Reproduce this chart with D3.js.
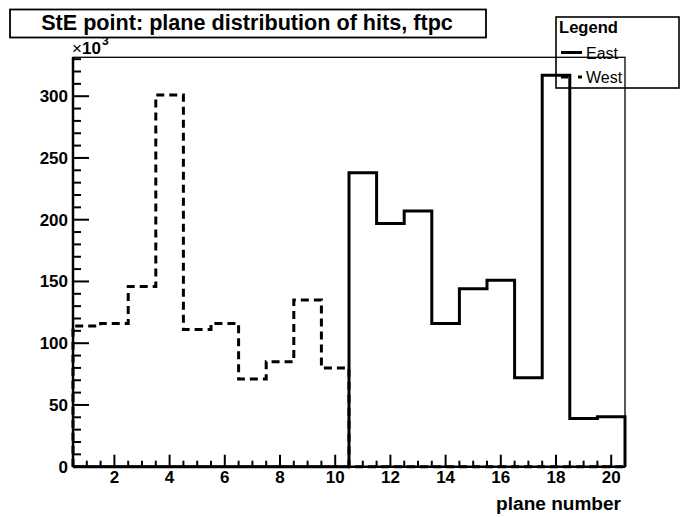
<!DOCTYPE html>
<html><head><meta charset="utf-8">
<script src="https://cdn.jsdelivr.net/npm/d3@7"></script>
<style>
html,body{margin:0;padding:0;background:#fff;}
svg{display:block;}
text{font-family:"Liberation Sans",Arial,Helvetica,sans-serif;fill:#000;}
</style></head>
<body>
<script>
// ---- data (values in units of 10^3 hits) ----
const planes = [1,2,3,4,5,6,7,8,9,10,11,12,13,14,15,16,17,18,19,20];
const eastHits = [0,0,0,0,0,0,0,0,0,0, 238,197,207,116,144,151,72,317,39,40.5];
const westHits = [114,116,146,301,111,116,71,85,135,80, 0,0,0,0,0,0,0,0,0,0];
const xTickValues = [2,4,6,8,10,12,14,16,18,20];
const yTickValues = [0,50,100,150,200,250,300];
const titleText = "StE point: plane distribution of hits, ftpc";
const xTitle = "plane number";
const legendTitle = "Legend";
const seriesNames = ["East","West"];

const W = 682, H = 517;
const svg = d3.select("body").append("svg").attr("width", W).attr("height", H);

const x = d3.scaleLinear().domain([0.5, 20.5]).range([73, 625]);
const y = d3.scaleLinear().domain([0, 331.5]).range([466.7, 57.3]);

function fit(sel, target){
  const w = sel.node().getComputedTextLength();
  const fs = parseFloat(sel.attr("font-size"));
  sel.attr("font-size", fs * target / w);
}

// frame (top/right thin)
svg.append("rect").attr("x", x(0.5)).attr("y", y(331.5))
  .attr("width", x(20.5)-x(0.5)).attr("height", y(0)-y(331.5))
  .attr("fill","none").attr("stroke","#000").attr("stroke-width",1.3);

// histogram outlines
function histPoints(vals){
  const pts = [[0.5,0]];
  vals.forEach((v,i)=>{ pts.push([planes[i]-0.5, v]); pts.push([planes[i]+0.5, v]); });
  pts.push([20.5,0]);
  return pts;
}
const line = d3.line().x(d=>x(d[0])).y(d=>y(d[1]));

svg.append("path").attr("d", line(histPoints(westHits)))
  .attr("fill","none").attr("stroke","#000").attr("stroke-width",3)
  .attr("stroke-dasharray","8,5");
svg.append("path").attr("d", line(histPoints(eastHits)))
  .attr("fill","none").attr("stroke","#000").attr("stroke-width",3)
  .attr("stroke-linejoin","miter");

// axis lines (thick left/bottom)
svg.append("line").attr("x1",x(0.5)).attr("x2",x(20.5)).attr("y1",y(0)).attr("y2",y(0))
  .attr("stroke","#000").attr("stroke-width",2.5);
svg.append("line").attr("x1",x(0.5)).attr("x2",x(0.5)).attr("y1",y(0)).attr("y2",y(331.5))
  .attr("stroke","#000").attr("stroke-width",2.5);

// x ticks
const xMinor = d3.range(1, 20.51, 0.5);
svg.append("g").selectAll("line").data(xMinor).join("line")
  .attr("x1",d=>x(d)).attr("x2",d=>x(d))
  .attr("y1",y(0)).attr("y2",d=> y(0) - (d%2===0 ? 12 : 6))
  .attr("stroke","#000").attr("stroke-width",2);
svg.append("g").selectAll("text").data(xTickValues).join("text")
  .attr("x",d=>x(d)).attr("y",483).attr("text-anchor","middle")
  .attr("font-size",17).attr("font-weight","bold").text(d=>d);

// y ticks
const yMinor = d3.range(0, 331, 10);
svg.append("g").selectAll("line").data(yMinor).join("line")
  .attr("x1",x(0.5)).attr("x2",d=> x(0.5) + (d%50===0 ? 16 : 8))
  .attr("y1",d=>y(d)).attr("y2",d=>y(d))
  .attr("stroke","#000").attr("stroke-width",2);
svg.append("g").selectAll("text").data(yTickValues).join("text")
  .attr("x",68).attr("y",d=>y(d)+6).attr("text-anchor","end")
  .attr("font-size",17).attr("font-weight","bold").text(d=>d);

// x axis title
const xt = svg.append("text").attr("x",621).attr("y",510).attr("text-anchor","end")
  .attr("font-size",18).attr("font-weight","bold").text(xTitle);
fit(xt, 125);

// exponent label x10^3
const ex = svg.append("text").attr("x",72).attr("y",54).attr("font-size",17).attr("font-weight","bold");
ex.append("tspan").attr("font-weight","normal").text("×");
ex.append("tspan").text("10");
svg.append("text").attr("x",102).attr("y",45).attr("font-size",12).attr("font-weight","bold").text("3");

// title box (white fill covers exponent top)
svg.append("rect").attr("x",10).attr("y",9.5).attr("width",476).attr("height",28)
  .attr("fill","#fff").attr("stroke","#000").attr("stroke-width",1.8);
const tt = svg.append("text").attr("x",247).attr("y",30).attr("text-anchor","middle")
  .attr("font-size",20).attr("font-weight","bold").text(titleText);
fit(tt, 412);

// legend
svg.append("rect").attr("x",556).attr("y",17).attr("width",123).attr("height",71)
  .attr("fill","none").attr("stroke","#000").attr("stroke-width",1.6);
const lg = svg.append("text").attr("x",559).attr("y",33).attr("font-size",16.5)
  .attr("font-weight","bold").text(legendTitle);
fit(lg, 59);
const legY = [52.5, 77];
svg.append("line").attr("x1",561).attr("x2",582).attr("y1",legY[0]).attr("y2",legY[0])
  .attr("stroke","#000").attr("stroke-width",3);
svg.append("line").attr("x1",561).attr("x2",582).attr("y1",legY[1]).attr("y2",legY[1])
  .attr("stroke","#000").attr("stroke-width",3).attr("stroke-dasharray","7,10");
svg.append("g").selectAll("text").data(seriesNames).join("text")
  .attr("x",586).attr("y",(d,i)=>legY[i]+6).attr("font-size",16).text(d=>d);
</script>
</body></html>
